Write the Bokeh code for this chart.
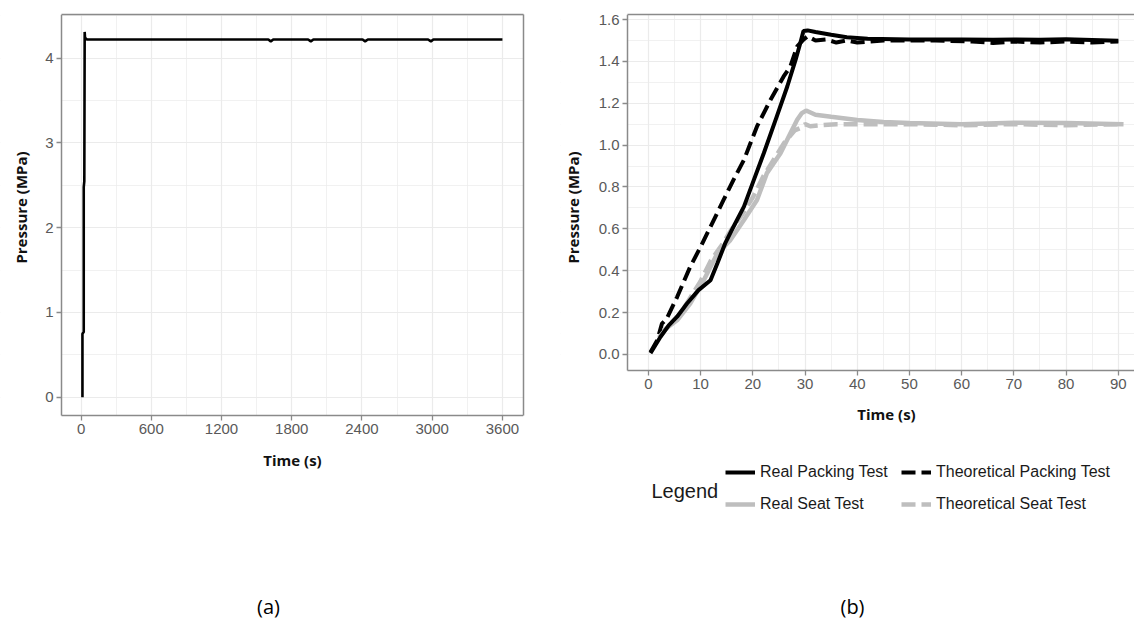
import math
from bokeh.plotting import figure
from bokeh.models import (FixedTicker, Legend, LegendItem, Label,
                          LinearAxis, BoxAnnotation, PrintfTickFormatter, Range1d)
from bokeh.layouts import row
from bokeh.embed import file_html
from bokeh.resources import INLINE

# ---------------- data : panel (a) ----------------
a_time = [12, 12, 23, 23, 28, 31, 34, 50, 1600, 1621, 1642, 1940, 1963, 1985,
          2405, 2427, 2450, 2965, 2989, 3010, 3600]
a_pressure = [0.0, 0.75, 0.77, 2.48, 2.55, 4.31, 4.24, 4.22, 4.22, 4.198, 4.22,
              4.22, 4.198, 4.22, 4.22, 4.198, 4.22, 4.22, 4.198, 4.22, 4.22]
a_xticks = [0, 600, 1200, 1800, 2400, 3000, 3600]
a_yticks = [0, 1, 2, 3, 4]

# ---------------- data : panel (b) ----------------
real_pack_t = [0.4, 2.3, 3.9, 5.5, 7.4, 9.6, 11.9, 13.2, 14.7, 16.3, 18.3, 20.2,
               22.1, 24.6, 26.6, 28.2, 29.1, 29.7, 30.5, 32, 35, 38, 42, 50, 60,
               66, 70, 75, 80, 85, 90]
real_pack_p = [0.006, 0.083, 0.139, 0.18, 0.243, 0.307, 0.354, 0.434, 0.53, 0.61,
               0.706, 0.834, 0.961, 1.137, 1.28, 1.408, 1.488, 1.545, 1.548, 1.54,
               1.527, 1.515, 1.508, 1.505, 1.505, 1.503, 1.505, 1.503, 1.506,
               1.502, 1.498]

theo_pack_t = [0.4, 1.7, 2.6, 3.5, 5.5, 8.0, 10.0, 11.9, 14.4, 16.3, 18.3, 20.8,
               23.4, 25.9, 27.2, 28.5, 29.7, 30.5, 32, 34, 36, 38, 40, 45, 55, 62,
               66, 70, 75, 80, 85, 90]
theo_pack_p = [0.01, 0.067, 0.147, 0.17, 0.274, 0.418, 0.514, 0.61, 0.738, 0.834,
               0.929, 1.089, 1.217, 1.328, 1.376, 1.472, 1.504, 1.52, 1.50, 1.505,
               1.49, 1.50, 1.49, 1.50, 1.50, 1.495, 1.488, 1.495, 1.49, 1.495,
               1.49, 1.495]

real_seat_t = [2.9, 5.5, 8.0, 10.6, 13.2, 15.7, 18.3, 20.8, 22.7, 25.3, 27.2, 28.5,
               29.4, 30.2, 32, 35, 40, 45, 50, 60, 70, 80, 91]
real_seat_p = [0.115, 0.163, 0.243, 0.354, 0.482, 0.546, 0.642, 0.738, 0.866,
               0.961, 1.057, 1.121, 1.153, 1.165, 1.145, 1.135, 1.12, 1.11, 1.105,
               1.10, 1.107, 1.105, 1.10]

theo_seat_t = [2.0, 4.0, 6.0, 8.0, 10.0, 12.0, 14.0, 16.0, 18.0, 20.0, 22.0, 24.0,
               26.0, 28.0, 29.0, 30.0, 31, 33, 36, 40, 50, 60, 70, 80, 90]
theo_seat_p = [0.08, 0.14, 0.19, 0.27, 0.35, 0.45, 0.52, 0.60, 0.67, 0.75, 0.85,
               0.93, 1.01, 1.07, 1.08, 1.10, 1.09, 1.095, 1.10, 1.10, 1.10, 1.095,
               1.10, 1.095, 1.10]

b_xticks = [0, 10, 20, 30, 40, 50, 60, 70, 80, 90]
b_yticks = [0.0, 0.2, 0.4, 0.6, 0.8, 1.0, 1.2, 1.4, 1.6]

series_names = ["Real Packing Test", "Theoretical Packing Test",
                "Real Seat Test", "Theoretical Seat Test"]
legend_title = "Legend"
panel_labels = ["(a)", "(b)"]
x_title = "Time (s)"
y_title = "Pressure (MPa)"

# ---------------- styling / layout constants ----------------
TICK_FONT = "Liberation Sans"
TITLE_FONT = "Open Sans"
GRID = "#EBEBEB"
FRAME = "#8a8a8a"
GREY = "#BEBEBE"
DASH = "14 6"
FIG_H = 626
TOP = 14


class Panel:
    """pixel <-> data mapping for one panel; the frame covers the whole
    figure except the top margin (and right margin for panel a)."""

    def __init__(self, fig_x0, fig_w, right_border, box_px, xlo, xhi, ylo, yhi):
        bl, br, bt, bb = box_px  # visible data box in pixels
        self.xppu = (br - bl) / (xhi - xlo)
        self.yppu = (bb - bt) / (yhi - ylo)
        self.fl, self.fr = fig_x0, fig_x0 + fig_w - right_border
        self.bl, self.bb = bl, bb
        self.xlo, self.xhi, self.ylo, self.yhi = xlo, xhi, ylo, yhi
        self.xstart = xlo - (bl - self.fl) / self.xppu
        self.xend = xlo + (self.fr - bl) / self.xppu
        self.ystart = ylo - (FIG_H - bb) / self.yppu

    def x(self, px):
        return self.xlo + (px - self.bl) / self.xppu

    def y(self, py):
        return self.ylo + (self.bb - py) / self.yppu


def edge_axis(bounds):
    return LinearAxis(ticker=FixedTicker(ticks=[]), bounds=bounds,
                      axis_line_color=FRAME, axis_line_width=1.5,
                      major_tick_out=0, major_tick_in=0,
                      major_tick_line_color=None, minor_tick_line_color=None)


def style_axes(p, xax, yax):
    for ax in (xax, yax):
        ax.major_label_text_font = TICK_FONT
        ax.major_label_text_font_size = "15px"
        ax.major_label_text_color = "#595959"
        ax.major_tick_line_color = FRAME
        ax.major_tick_line_width = 1.3
        ax.major_tick_out = 5
        ax.major_tick_in = 0
        ax.minor_tick_line_color = None
        ax.major_label_standoff = 3
        ax.axis_line_color = FRAME
        ax.axis_line_width = 1.5
        ax.axis_label = None
    for g in (p.xgrid[0], p.ygrid[0]):
        g.grid_line_color = GRID
        g.grid_line_width = 1.2
        g.minor_grid_line_color = GRID
        g.minor_grid_line_width = 0.7
    p.background_fill_color = "white"
    p.border_fill_color = "white"
    p.outline_line_color = None


def finish_panel(p, P, xtitle_px, ytitle_px):
    # top edge of the panel box
    p.add_layout(edge_axis((P.xlo, P.xhi)), "above")
    # blank out the grid outside the data box
    p.add_layout(BoxAnnotation(top=P.ylo, fill_color="white", fill_alpha=1.0,
                               line_color=None, level="underlay"))
    p.add_layout(BoxAnnotation(right=P.xlo, fill_color="white", fill_alpha=1.0,
                               line_color=None, level="underlay"))
    p.add_layout(Label(x=P.x(xtitle_px[0]), y=P.y(xtitle_px[1]), text=x_title,
                       text_align="center", text_baseline="middle",
                       text_font=TITLE_FONT, text_font_style="bold",
                       text_font_size="15px", text_color="#111111"))
    p.add_layout(Label(x=P.x(ytitle_px[0]), y=P.y(ytitle_px[1]), text=y_title,
                       angle=math.pi / 2, text_align="center",
                       text_baseline="middle", text_font=TITLE_FONT,
                       text_font_style="bold", text_font_size="15px",
                       text_color="#111111"))


# ---------------- panel (a) ----------------
PA = Panel(0, 560, 37, (61, 523, TOP, 415), -167, 3780, -0.215, 4.515)
p1 = figure(width=560, height=FIG_H, output_backend="svg", toolbar_location=None,
            x_range=Range1d(PA.xstart, PA.xend), y_range=Range1d(PA.ystart, PA.yhi),
            min_border_left=0, min_border_right=37, min_border_top=TOP,
            min_border_bottom=0)
xa1, ya1 = p1.xaxis[0], p1.yaxis[0]
xa1.ticker = FixedTicker(ticks=a_xticks, minor_ticks=[t + 300 for t in a_xticks[:-1]])
ya1.ticker = FixedTicker(ticks=a_yticks, minor_ticks=[t + 0.5 for t in a_yticks])
xa1.fixed_location = PA.ylo
ya1.fixed_location = PA.xlo
xa1.bounds = (PA.xlo, PA.xhi)
ya1.bounds = (PA.ylo, PA.yhi)
style_axes(p1, xa1, ya1)
finish_panel(p1, PA, (292, 459), (20, 207))
p1.add_layout(edge_axis((PA.ylo, PA.yhi)), "right")

p1.line(a_time, a_pressure, line_color="black", line_width=2.6)

p1.add_layout(Label(x=PA.x(268), y=PA.y(606), text=panel_labels[0],
                    text_align="center", text_baseline="middle",
                    text_font=TITLE_FONT, text_font_size="20px",
                    text_color="black"))

# ---------------- panel (b) ----------------
PB = Panel(560, 574, 0, (627, 1146, TOP, 370), -4.0, 95.4, -0.077, 1.624)
p2 = figure(width=574, height=FIG_H, output_backend="svg", toolbar_location=None,
            x_range=Range1d(PB.xstart, PB.xend), y_range=Range1d(PB.ystart, PB.yhi),
            min_border_left=0, min_border_right=0, min_border_top=TOP,
            min_border_bottom=0)
xa2, ya2 = p2.xaxis[0], p2.yaxis[0]
xa2.ticker = FixedTicker(ticks=b_xticks, minor_ticks=[t + 5 for t in b_xticks])
ya2.ticker = FixedTicker(ticks=b_yticks,
                         minor_ticks=[round(t + 0.1, 1) for t in b_yticks[:-1]])
ya2.formatter = PrintfTickFormatter(format="%.1f")
xa2.fixed_location = PB.ylo
ya2.fixed_location = PB.xlo
xa2.bounds = (PB.xlo, PB.xhi)
ya2.bounds = (PB.ylo, PB.yhi)
style_axes(p2, xa2, ya2)
finish_panel(p2, PB, (886, 413), (572, 207))

r_tp = p2.line(theo_pack_t, theo_pack_p, line_color="black", line_width=4,
               line_dash=DASH)
r_ts = p2.line(theo_seat_t, theo_seat_p, line_color=GREY, line_width=4.5,
               line_dash=DASH)
r_rs = p2.line(real_seat_t, real_seat_p, line_color=GREY, line_width=4.5)
r_rp = p2.line(real_pack_t, real_pack_p, line_color="black", line_width=4)


def make_legend(items, glyph_px):
    return Legend(items=items, location=(glyph_px - 560, FIG_H - 462 - 52),
                  orientation="vertical",
                  glyph_width=30, glyph_height=20, label_height=20,
                  label_standoff=5, spacing=12, padding=0, margin=0,
                  border_line_color=None, background_fill_alpha=0,
                  label_text_font=TICK_FONT, label_text_font_size="16px",
                  label_text_color="#1a1a1a")


p2.add_layout(make_legend([LegendItem(label=series_names[0], renderers=[r_rp]),
                           LegendItem(label=series_names[2], renderers=[r_rs])], 725))
p2.add_layout(make_legend([LegendItem(label=series_names[1], renderers=[r_tp]),
                           LegendItem(label=series_names[3], renderers=[r_ts])], 901))

p2.add_layout(Label(x=PB.x(651), y=PB.y(490), text=legend_title, text_align="left",
                    text_baseline="middle", text_font=TICK_FONT,
                    text_font_size="20px", text_color="#1a1a1a"))
p2.add_layout(Label(x=PB.x(852), y=PB.y(606), text=panel_labels[1],
                    text_align="center", text_baseline="middle",
                    text_font=TITLE_FONT, text_font_size="20px",
                    text_color="black"))

layout = row(p1, p2)
open("out.html", "w").write(file_html(layout, INLINE))
